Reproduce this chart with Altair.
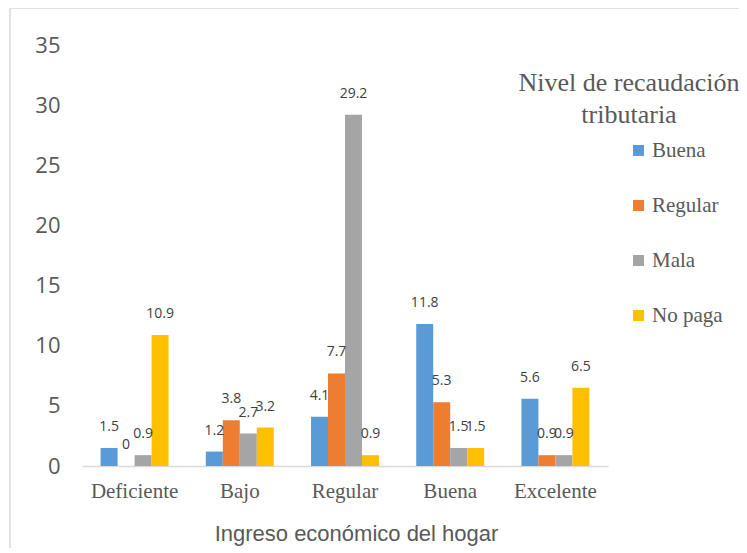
import altair as alt
import pandas as pd

categories = ["Deficiente", "Bajo", "Regular", "Buena", "Excelente"]
series = ["Buena", "Regular", "Mala", "No paga"]
colors = ["#5B9BD5", "#ED7D31", "#A5A5A5", "#FFC000"]
buena = [1.5, 1.2, 4.1, 11.8, 5.6]
regular = [0, 3.8, 7.7, 5.3, 0.9]
mala = [0.9, 2.7, 29.2, 1.5, 0.9]
no_paga = [10.9, 3.2, 0.9, 1.5, 6.5]
y_ticks = [0, 5, 10, 15, 20, 25, 30, 35]
legend_title = ["Nivel de recaudación", "tributaria"]
x_title = "Ingreso económico del hogar"

SERIF = "Liberation Serif, Times New Roman, serif"

rows = []
for s, vals in zip(series, [buena, regular, mala, no_paga]):
    for c, v in zip(categories, vals):
        rows.append({"cat": c, "serie": s, "val": v, "label": f"{v:g}"})
df = pd.DataFrame(rows)

base = alt.Chart(df).encode(
    x=alt.X("cat:N", sort=categories,
            scale=alt.Scale(paddingInner=0.354, paddingOuter=0.177),
            axis=alt.Axis(title=x_title, labelAngle=0, ticks=False,
                          labelFont=SERIF, labelFontSize=21,
                          labelColor="#595959", labelPadding=14,
                          domainColor="#D9D9D9", domainWidth=1.5,
                          titleFont="Liberation Sans", titleFontSize=22,
                          titleFontWeight="normal", titleColor="#595959",
                          titlePadding=22, titleX=274)),
    xOffset=alt.XOffset("serie:N", sort=series, scale=alt.Scale(paddingInner=0, paddingOuter=0)),
    y=alt.Y("val:Q", scale=alt.Scale(domain=[0, 35], nice=False),
            axis=alt.Axis(title=None, values=y_ticks, grid=False, domain=False,
                          ticks=False, labelFont="Open Sans", labelFontSize=22,
                          labelColor="#595959", labelPadding=22)),
)

bars = base.mark_bar().encode(
    color=alt.Color("serie:N", sort=series,
                    scale=alt.Scale(domain=series, range=colors),
                    legend=alt.Legend(title=None, orient="none", legendX=546, legendY=95,
                                      padding=0, symbolType="square", symbolSize=121,
                                      symbolStrokeWidth=0, labelFont=SERIF,
                                      labelFontSize=21, labelColor="#595959",
                                      labelOffset=3, rowPadding=33))
)

text = base.mark_text(baseline="bottom", dy=-14, font="Open Sans", fontSize=14,
                      color="#404040").encode(text="label:N")

one = pd.DataFrame({"k": [0]})
title_layer = alt.Chart(one).mark_text(font=SERIF, fontSize=26,
                                       color="#595959", align="center",
                                       baseline="middle", lineHeight=32).encode(
    x=alt.value(547), y=alt.value(38), text=alt.value(legend_title))

border = alt.Chart(one).mark_rect(fill="transparent", stroke="#D9D9D9",
                                  strokeWidth=1.5).encode(
    x=alt.value(-72), x2=alt.value(800), y=alt.value(-37), y2=alt.value(600))

chart = alt.layer(border, bars, text, title_layer).properties(
    width=526, height=421,
    autosize=alt.AutoSizeParams(type="none"),
    padding={"left": 74, "top": 37, "right": 131, "bottom": 82},
).configure_view(stroke=None)

chart.save("out.html", embed_options={"renderer": "svg", "actions": False})
